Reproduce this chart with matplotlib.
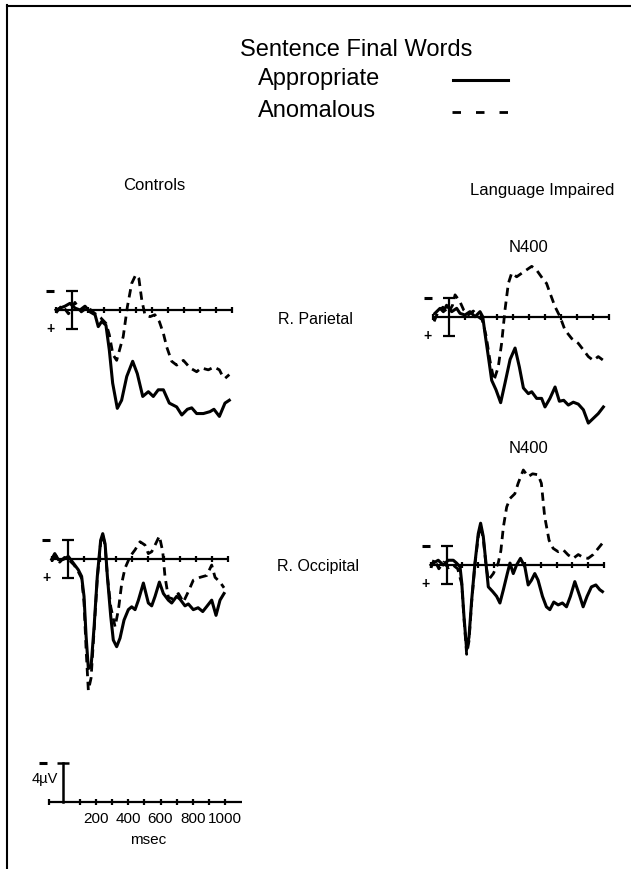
import matplotlib
matplotlib.use("Agg")
import matplotlib.pyplot as plt
from matplotlib.lines import Line2D

plt.rcParams["font.family"] = ["Liberation Sans", "DejaVu Sans"]

W, H = 631, 869

# R. Parietal, controls (ms, microvolts; negative is plotted up)
ctl_par_t_app = [-98, -73, -42, -11, 21, 52, 83, 115, 146, 166, 188, 214, 235, 256, 285, 312, 344, 381,
                 410, 444, 479, 510, 541, 573, 610, 656, 688, 723, 750, 781, 823, 864, 889, 923, 958, 985]
ctl_par_v_app = [0, -0.2, -0.4, -0.7, -0.2, 0, -0.4, 0.2, 0.5, 1.75, 1.2, 1.6, 4.2, 7.7, 10.35, 9.5, 7.0, 5.4,
                 6.7, 9.1, 8.6, 9.1, 8.4, 8.4, 9.8, 10.2, 11.05, 10.45, 10.3, 10.9, 10.9, 10.7, 10.45, 11.2, 9.8, 9.5]
ctl_par_t_ano = [-98, -60, -20, 20, 60, 100, 140, 180, 214, 235, 258, 281, 322, 348, 375, 400, 420, 438,
                 458, 490, 520, 548, 573, 594, 625, 656, 698, 740, 781, 810, 854, 890, 923, 938, 958, 985]
ctl_par_v_ano = [0.3, -0.5, 0.4, -0.8, 0.2, -0.3, 0.3, 0.8, 1.4, 2.6, 4.7, 5.3, 2.8, -0.35, -2.8, -3.7, -3.3, -1.05,
                 0.53, 0.7, 0.5, 1.23, 2.46, 3.9, 5.4, 5.8, 5.3, 6.1, 6.5, 6.1, 6.3, 6.0, 6.3, 6.8, 7.2, 6.8]

# R. Parietal, language impaired
li_par_t_app = [-90, -58, -37, -17, 15, 46, 67, 98, 129, 161, 192, 209, 223, 244, 265, 292, 321, 348, 380, 411,
                438, 463, 494, 515, 546, 577, 598, 629, 661, 688, 715, 744, 775, 806, 838, 869, 900, 931, 963]
li_par_v_app = [-0.35, -0.88, -0.53, -1.2, -0.53, -0.88, -0.35, -0.18, -0.53, 0, -0.53, 0, 1.75, 4.2, 6.7, 7.7,
                9.05, 7.0, 4.5, 3.3, 5.3, 7.5, 8.1, 7.9, 8.6, 8.6, 9.5, 8.6, 7.4, 8.9, 8.8, 9.3, 9.0, 9.2, 9.8,
                11.2, 10.7, 10.2, 9.5]
li_par_t_ano = [-95, -70, -40, -10, 20, 36, 66, 90, 120, 150, 180, 205, 230, 254, 279, 306, 327, 348, 369,
                390, 421, 463, 515, 546, 588, 608, 629, 661, 692, 723, 765, 806, 838, 869, 900, 931, 963]
li_par_v_ano = [0.5, -0.5, -1.0, -0.3, -1.2, -2.3, -1.6, -0.7, -0.2, -0.6, 0, 0.3, 2.0, 4.6, 6.7, 5.3, 2.8,
                -0.7, -3.5, -4.6, -4.2, -4.7, -5.3, -4.9, -3.9, -3.5, -2.5, -1.05, 0, 1.4, 2.3, 2.8, 3.5,
                4.2, 4.6, 4.2, 4.6]

# R. Occipital, controls
ctl_occ_t_app = [-100, -81, -58, -27, 4, 35, 66, 87, 102, 115, 129, 146, 165, 185, 206, 219, 234, 248, 269,
                 285, 306, 327, 352, 379, 400, 421, 442, 473, 504, 525, 546, 573, 598, 629, 650, 681, 702,
                 733, 754, 785, 815, 844, 869, 900, 927, 952, 977]
ctl_occ_v_app = [0, -0.6, 0.05, 0, -0.3, 0.4, 1.1, 1.8, 3.9, 8.1, 11.5, 11.3, 7.1, 1.8, -2.0, -2.7, -1.6,
                 1.8, 6.0, 8.5, 9.2, 8.3, 6.4, 5.3, 5.0, 5.3, 4.3, 2.5, 4.6, 4.9, 3.9, 2.4, 3.6, 4.3, 4.6,
                 3.9, 4.2, 4.9, 4.7, 5.3, 5.1, 5.5, 4.97, 4.3, 5.9, 4.3, 3.6]
ctl_occ_t_ano = [-100, -75, -50, -20, 10, 40, 66, 87, 102, 115, 129, 146, 165, 185, 206, 219, 234, 248,
                 269, 296, 317, 338, 358, 390, 421, 452, 483, 504, 525, 546, 573, 594, 608, 629, 660, 692,
                 723, 754, 785, 827, 869, 900, 921, 952, 977]
ctl_occ_v_ano = [0.2, -0.4, 0.3, -0.2, 0.1, 0.6, 1.3, 2.0, 4.5, 9.5, 13.8, 12.5, 7.5, 2.0, -1.8, -2.6,
                 -1.4, 1.8, 5.0, 7.1, 5.3, 2.5, 0.95, -0.3, -1.0, -1.85, -1.5, -0.6, -0.8, -1.5, -2.45,
                 -0.8, 1.8, 4.0, 4.2, 3.6, 4.5, 3.4, 2.2, 1.9, 1.7, 0.6, 1.9, 2.4, 3.0]

# R. Occipital, language impaired
li_occ_t_app = [-100, -85, -54, -22, 10, 42, 63, 85, 96, 110, 127, 142, 159, 180, 201, 216, 233, 250, 265,
                293, 318, 339, 361, 386, 403, 424, 445, 470, 498, 519, 540, 561, 582, 610, 635, 657, 682,
                710, 737, 763, 788, 816, 848, 869, 894, 922, 950, 975, 992]
li_occ_v_app = [0, -0.2, -0.5, 0, -0.5, -0.5, -0.2, 0.2, 1.9, 5.4, 8.9, 7.6, 3.7, -0.2, -3.3, -4.4, -3.0,
                -0.2, 2.3, 2.8, 3.3, 4.0, 2.6, 0.9, -0.2, 0.9, 0, -0.7, 0.2, 2.1, 1.6, 0.9, 1.6, 3.3, 4.4,
                4.7, 3.9, 4.2, 4.0, 4.4, 3.3, 1.75, 3.3, 4.4, 3.3, 2.3, 2.1, 2.6, 2.8]
li_occ_t_ano = [-100, -80, -50, -20, 10, 40, 70, 96, 110, 127, 142, 159, 180, 201, 216, 233, 250, 265, 297,
                328, 345, 361, 382, 403, 434, 455, 488, 519, 547, 582, 603, 624, 652, 678, 710, 742, 774,
                806, 838, 869, 901, 933, 965, 992]
li_occ_v_ano = [0.3, -0.6, 0.4, -0.3, 0.3, 0, 0.4, 2.0, 5.6, 9.4, 8.0, 3.9, -0.1, -3.0, -4.1, -2.8, 0, 1.6,
                0.9, -0.2, -1.5, -4.0, -6.1, -7.0, -7.5, -8.6, -10.0, -9.3, -9.6, -9.5, -8.6, -5.1, -2.6,
                -1.75, -1.4, -1.6, -1.05, -0.7, -1.1, -0.8, -0.7, -1.1, -1.75, -2.3]

tick_ms = [100, 200, 300, 400, 500, 600, 700, 800, 900, 1000]
scale_labels = ["200", "400", "600", "800", "1000"]
scale_uv = 4
bar_uv = 2

XLIM = (-180, 1140)
YLIM = (-12, 15)


def px(x, y):
    return x / W, 1 - y / H


def panel_axes(fig, x0, y0, px_per_ms, px_per_uv):
    # axes placed so that t=0 / 0 uV sits at pixel (x0, y0)
    left = x0 + XLIM[0] * px_per_ms
    width = (XLIM[1] - XLIM[0]) * px_per_ms
    top = y0 + YLIM[0] * px_per_uv
    height = (YLIM[1] - YLIM[0]) * px_per_uv
    ax = fig.add_axes([left / W, 1 - (top + height) / H, width / W, height / H])
    ax.set_xlim(*XLIM)
    ax.set_ylim(YLIM[1], YLIM[0])  # negative up
    ax.axis("off")
    ax.patch.set_alpha(0)
    return ax


def polarity_marks(ax, x, neg_y, pos_y=None):
    ax.plot([x], [neg_y], marker="_", ms=6, mew=2.2, color="black")
    if pos_y is not None:
        ax.text(x, pos_y, "+", fontsize=10, fontweight="bold", ha="center", va="center")


def draw_baseline(ax):
    ax.plot([-100, 1000], [0, 0], color="black", lw=1.6, solid_capstyle="butt")
    ax.plot([-100] + tick_ms, [0] * (len(tick_ms) + 1), ls="none", marker="|",
            ms=5, mew=1.6, color="black")
    ax.errorbar([0], [0], yerr=[bar_uv], color="black", elinewidth=1.6, capsize=4.5, capthick=1.6)
    polarity_marks(ax, -135, -bar_uv, bar_uv)


def draw_waves(ax, t_app, v_app, t_ano, v_ano):
    ax.plot(t_app, v_app, color="black", lw=2.2, solid_joinstyle="round")
    ax.plot(t_ano, v_ano, color="black", lw=2.0, ls=(0, (3, 2)))


fig = plt.figure(figsize=(W / 100, H / 100), dpi=100)

panels = [
    (71.7, 310.0, 0.160, 9.5, ctl_par_t_app, ctl_par_v_app, ctl_par_t_ano, ctl_par_v_ano),
    (449.3, 316.7, 0.160, 9.5, li_par_t_app, li_par_v_app, li_par_t_ano, li_par_v_ano),
    (67.7, 559.3, 0.160, 9.5, ctl_occ_t_app, ctl_occ_v_app, ctl_occ_t_ano, ctl_occ_v_ano),
    (446.7, 565.0, 0.157, 9.5, li_occ_t_app, li_occ_v_app, li_occ_t_ano, li_occ_v_ano),
]
for x0, y0, sx, sy, ta, va, tn, vn in panels:
    ax = panel_axes(fig, x0, y0, sx, sy)
    draw_baseline(ax)
    draw_waves(ax, ta, va, tn, vn)

# calibration: time axis and 4 uV bar
ax = panel_axes(fig, 63.3, 801.7, 0.162, 9.7)
ax.plot([-90, 1100], [0, 0], color="black", lw=1.6, solid_capstyle="butt")
ax.plot([-90] + tick_ms, [0] * (len(tick_ms) + 1), ls="none", marker="|", ms=5, mew=1.6, color="black")
ax.plot([0, 0], [0, -scale_uv], color="black", lw=1.8)
ax.plot([0], [-scale_uv], marker="_", ms=9, mew=1.8, color="black")
polarity_marks(ax, -128, -scale_uv)
ax.text(-112, -2.3, "4µV", fontsize=10.5, ha="center", va="center")
for ms, lab in zip(tick_ms[1::2], scale_labels):
    ax.text(ms, 1.8, lab, fontsize=11, ha="center", va="center")
ax.text(525, 3.9, "msec", fontsize=11, ha="center", va="center")

# header and legend
fig.text(*px(356, 56), "Sentence Final Words", fontsize=17, ha="center", va="baseline")
fig.text(*px(319, 85), "Appropriate", fontsize=17, ha="center", va="baseline")
fig.text(*px(317, 117), "Anomalous", fontsize=17, ha="center", va="baseline")
fig.add_artist(Line2D([453 / W, 508 / W], [1 - 80 / H] * 2, color="black", lw=2.2))
fig.add_artist(Line2D([452 / W, 508 / W], [1 - 111.7 / H] * 2, color="black", lw=2.0,
                      ls=(0, (3.06, 5.4))))

fig.text(*px(154, 185), "Controls", fontsize=12, ha="center", va="center")
fig.text(*px(542, 191), "Language Impaired", fontsize=12, ha="center", va="center")
fig.text(*px(529, 248), "N400", fontsize=12, ha="center", va="center")
fig.text(*px(528, 448), "N400", fontsize=12, ha="center", va="center")
fig.text(*px(315, 320), "R. Parietal", fontsize=11.5, ha="center", va="center")
fig.text(*px(318, 566), "R. Occipital", fontsize=11.5, ha="center", va="center")

# page frame
fig.add_artist(Line2D([7 / W, 7 / W], [0, 1 - 5 / H], color="black", lw=1.5))
fig.add_artist(Line2D([7 / W, 1], [1 - 6 / H] * 2, color="black", lw=1.5))

fig.savefig("out.png", dpi=100)
